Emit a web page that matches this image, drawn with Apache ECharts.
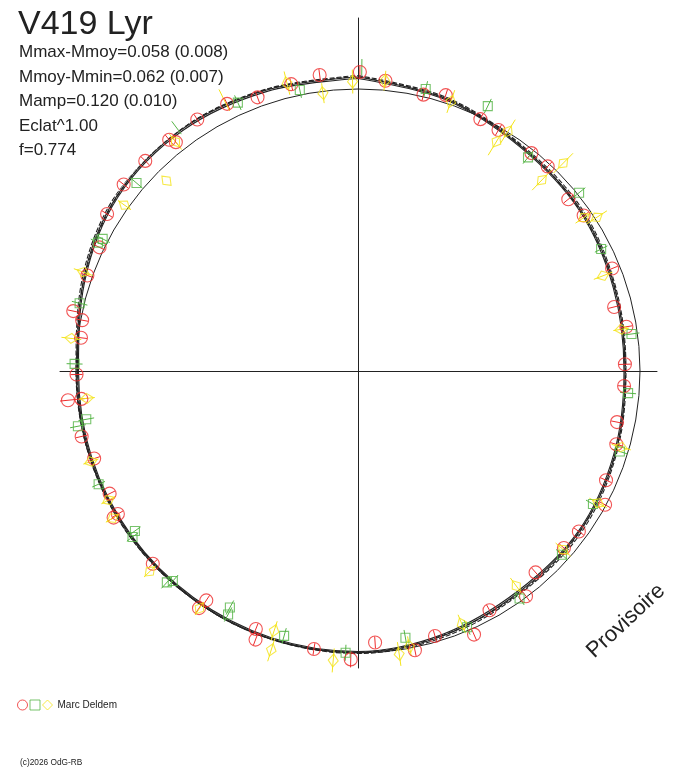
<!DOCTYPE html>
<html>
<head>
<meta charset="utf-8">
<script src="https://cdn.jsdelivr.net/npm/echarts@6/dist/echarts.min.js"></script>
<style>
  html, body { margin: 0; padding: 0; background: #fff; }
  #chart { width: 688px; height: 768px; }
</style>
</head>
<body>
<div id="chart"></div>
<script>
/* V419 Lyr — diagramme polaire (phase -> angle, éclat -> rayon) */

// rayon en unités du graphe (300 = bord du cadre polaire)
const R_MAX = 300;
const REF_RADIUS = 282;

// phases des courbes ajustées
const FIT_PHASES = [0, 0.05, 0.10, 0.15, 0.20, 0.25, 0.30, 0.35, 0.40, 0.45, 0.50,
                    0.55, 0.60, 0.65, 0.70, 0.75, 0.80, 0.85, 0.90, 0.95, 1.00];
// quatre ajustements voisins (faisceau noir)
const FIT_1 = [294, 286, 277.5, 275, 270, 267, 270.5, 273.5, 273.5, 278, 281.5,
               281.5, 281, 281, 281, 280.5, 289, 298, 299, 295.5, 294];
const FIT_2 = [295.5, 287.5, 279, 276.5, 271, 268, 271.5, 275.5, 275.5, 279.5, 282.5,
               282, 281.5, 282, 282, 282, 290.5, 299.5, 300, 296.5, 295.5];
const FIT_3 = [292.5, 285, 276.5, 273.5, 268.5, 266, 269, 272.5, 272, 276.5, 280.5,
               280.5, 280, 280, 280, 279.5, 287.5, 296.5, 297.5, 294, 292.5];
const FIT_4 = [294.5, 286.5, 278, 274, 269.5, 267.5, 270, 274, 274.5, 277.5, 281,
               282, 281.5, 280.5, 281.5, 281, 288.5, 297.5, 299.5, 296, 294.5];

// observations : [phase, rayon, erreur]
const RED_OBS = [
  [0.001, 299, 6], [0.015, 291.5, 6], [0.037, 284, 6], [0.049, 289.5, 6], [0.072, 280, 6],
  [0.084, 279, 6], [0.107, 278.5, 6], [0.119, 279, 6], [0.141, 271.5, 6], [0.154, 274, 6],
  [0.189, 274, 6], [0.211, 264, 6], [0.224, 272, 6], [0.246, 267, 6], [0.259, 266.5, 6],
  [0.281, 264, 6], [0.294, 268.5, 6], [0.316, 271, 6], [0.329, 281, 6], [0.350, 273, 6],
  [0.363, 271.5, 6], [0.385, 268.5, 6], [0.398, 281, 6], [0.420, 273, 6], [0.434, 288, 6],
  [0.455, 276, 6], [0.468, 285, 6], [0.490, 272, 6], [0.504, 288.5, 8], [0.525, 281.5, 6],
  [0.558, 287.5, 6], [0.560, 277.5, 6], [0.593, 275, 6], [0.594, 285.5, 6], [0.630, 281.5, 6],
  [0.6645, 279.5, 6], [0.664, 285, 6], [0.677, 277, 6], [0.699, 278, 6], [0.713, 284, 6],
  [0.734, 291.5, 8], [0.734, 278, 6], [0.748, 281.5, 6], [0.769, 279, 6], [0.779, 280.5, 6],
  [0.783, 291, 6], [0.804, 287, 6], [0.821, 286.5, 6], [0.839, 296, 6], [0.857, 299.5, 6],
  [0.874, 299, 6], [0.891, 298.5, 6], [0.893, 292.5, 6], [0.9095, 298.5, 6], [0.9275, 297.5, 6],
  [0.944, 291.5, 6], [0.9636, 294.5, 6], [0.9795, 298.5, 6]
];
const GREEN_OBS = [
  [0.002, 304, 8], [0.0375, 290, 8], [0.0725, 295, 8], [0.107, 273, 8], [0.142, 284, 8],
  [0.176, 272, 7], [0.2286, 276, 8], [0.263, 271, 8], [0.2975, 274, 8], [0.332, 270, 8],
  [0.3667, 274.5, 8], [0.4017, 279, 8], [0.436, 278.5, 8], [0.472, 271, 8], [0.507, 282, 8],
  [0.5433, 275, 8], [0.578, 276, 8], [0.579, 269, 8], [0.615, 280, 8], [0.617, 285, 8],
  [0.649, 280, 7], [0.651, 274.5, 7], [0.6845, 283, 7], [0.719, 285.5, 8], [0.722, 276, 8],
  [0.754, 283.5, 8], [0.788, 286.5, 8], [0.823, 290, 8], [0.826, 287.5, 8], [0.862, 290.5, 8],
  [0.898, 303.5, 8], [0.933, 294, 8], [0.9675, 287, 8]
];
const YELLOW_OBS = [
  [0.0147, 291.5, 10], [0.0528, 285, 12], [0.089, 282.5, 14], [0.0864, 268, 16], [0.124, 292, 14],
  [0.122, 265, 14], [0.155, 273, 10], [0.159, 284, 12], [0.191, 263, 10], [0.225, 266.5, 8],
  [0.2948, 274, 10], [0.330, 274, 10], [0.364, 272, 10], [0.399, 267, 10], [0.438, 273.5, 10],
  [0.4706, 280, 10], [0.477, 286, 12], [0.5136, 290.5, 12], [0.5497, 273, 10], [0.548, 292, 12],
  [0.5937, 285.5, 8], [0.628, 289, 8], [0.664, 286, 8], [0.674, 281, 8], [0.698, 282, 8],
  [0.734, 272.5, 8], [0.768, 288.5, 10], [0.805, 292, 10], [0.8483, 286.5, 8], [0.8745, 270, 0],
  [0.893, 293, 10], [0.927, 302, 12], [0.9615, 296.5, 12], [0.980, 280, 10], [0.997, 289.5, 12]
];

const INFO_LINES = ['Mmax-Mmoy=0.058 (0.008)', 'Mmoy-Mmin=0.062 (0.007)',
                    'Mamp=0.120 (0.010)', 'Eclat^1.00', 'f=0.774'];

const FONT = "'Liberation Sans', Arial, sans-serif";
const INK = '#222222';
const RED = '#ee2b2b';
const GREEN = '#55b446';
const YELLOW = '#f4e41a';

const chart = echarts.init(document.getElementById('chart'), null, { renderer: 'canvas' });

// polar data order is [radius, angle, err]
const toPolar = obs => obs.map(o => [o[1], o[0], o[2]]);

function fitSeries(values, dashed) {
  return {
    type: 'line', coordinateSystem: 'polar', polarIndex: 0,
    data: values.map((r, i) => [r, FIT_PHASES[i]]),
    symbol: 'none', smooth: 0.34, silent: true,
    lineStyle: { color: INK, width: 1.1, type: dashed ? [5, 2] : 'solid' },
    z: 3
  };
}

// cercle de référence : rayon constant sur toute la phase
const refPhases = [];
for (let i = 0; i <= 72; i++) refPhases.push(i / 72);

function errorBars(obs, color) {
  return {
    type: 'custom', coordinateSystem: 'polar', polarIndex: 0,
    data: toPolar(obs), silent: true, z: 4,
    renderItem(params, api) {
      const r = api.value(0), p = api.value(1), e = api.value(2);
      if (!e) return null;
      const a = api.coord([r - e, p]);
      const b = api.coord([r + e, p]);
      return {
        type: 'line',
        shape: { x1: a[0], y1: a[1], x2: b[0], y2: b[1] },
        style: { stroke: color, lineWidth: 1 }
      };
    }
  };
}

function markers(name, obs, color, symbol, size, rotate) {
  return {
    name, type: 'scatter', coordinateSystem: 'polar', polarIndex: 0,
    data: toPolar(obs), symbol, symbolSize: size,
    symbolRotate: rotate ? (v => -v[1] * 360) : 0,
    itemStyle: { color: 'rgba(0,0,0,0)', borderColor: color, borderWidth: 1.1 },
    silent: true, z: 5
  };
}

const graphicTexts = [
  { type: 'text', left: 18, top: 8,
    style: { text: 'V419 Lyr', font: `34px ${FONT}`, fill: INK } }
].concat(INFO_LINES.map((t, i) => ({
  type: 'text', left: 19, top: 44 + i * 24.5,
  style: { text: t, font: `17px ${FONT}`, fill: INK }
}))).concat([
  { type: 'text', x: 626, y: 621, rotation: 43 * Math.PI / 180,
    style: { text: 'Provisoire', font: `22px ${FONT}`, fill: INK, align: 'center', verticalAlign: 'middle' } },
  { type: 'text', left: 20, top: 759,
    style: { text: '(c)2026 OdG-RB', font: `8.3px ${FONT}`, fill: INK } }
]);

chart.setOption({
  animation: false,
  textStyle: { fontFamily: FONT },
  grid: { left: 60, right: 31, top: 18, bottom: 100 },
  xAxis: {
    type: 'value', min: -298, max: 299,
    axisLine: { onZero: true, lineStyle: { color: INK, width: 1 } },
    axisTick: { show: false }, axisLabel: { show: false }, splitLine: { show: false }
  },
  yAxis: {
    type: 'value', min: -297, max: 353,
    axisLine: { onZero: true, lineStyle: { color: INK, width: 1 } },
    axisTick: { show: false }, axisLabel: { show: false }, splitLine: { show: false }
  },
  polar: { center: [358, 371], radius: R_MAX },
  angleAxis: { type: 'value', min: 0, max: 1, startAngle: 90, clockwise: true, show: false },
  radiusAxis: { type: 'value', min: 0, max: R_MAX, show: false },
  legend: {
    left: 12, top: 694.5, itemWidth: 10, itemHeight: 10, itemGap: 1.5,
    data: ['Marc Deldem (o)', 'Marc Deldem (c)', 'Marc Deldem'],
    formatter: n => (n === 'Marc Deldem' ? n : ''),
    itemStyle: { borderWidth: 1 },
    textStyle: { fontSize: 10, color: INK, fontFamily: FONT }
  },
  graphic: graphicTexts,
  series: [
    {
      type: 'line', coordinateSystem: 'polar', polarIndex: 0,
      data: refPhases.map(p => [REF_RADIUS, p]),
      symbol: 'none', silent: true,
      lineStyle: { color: INK, width: 1 }, z: 2
    },
    fitSeries(FIT_1, false),
    fitSeries(FIT_2, true),
    fitSeries(FIT_3, false),
    fitSeries(FIT_4, true),
    errorBars(RED_OBS, RED),
    errorBars(GREEN_OBS, GREEN),
    errorBars(YELLOW_OBS, YELLOW),
    markers('Marc Deldem (o)', RED_OBS, RED, 'circle', 13, false),
    markers('Marc Deldem (c)', GREEN_OBS, GREEN, 'rect', 9, false),
    markers('Marc Deldem', YELLOW_OBS, YELLOW, 'diamond', [10, 13], true)
  ]
});
</script>
</body>
</html>
